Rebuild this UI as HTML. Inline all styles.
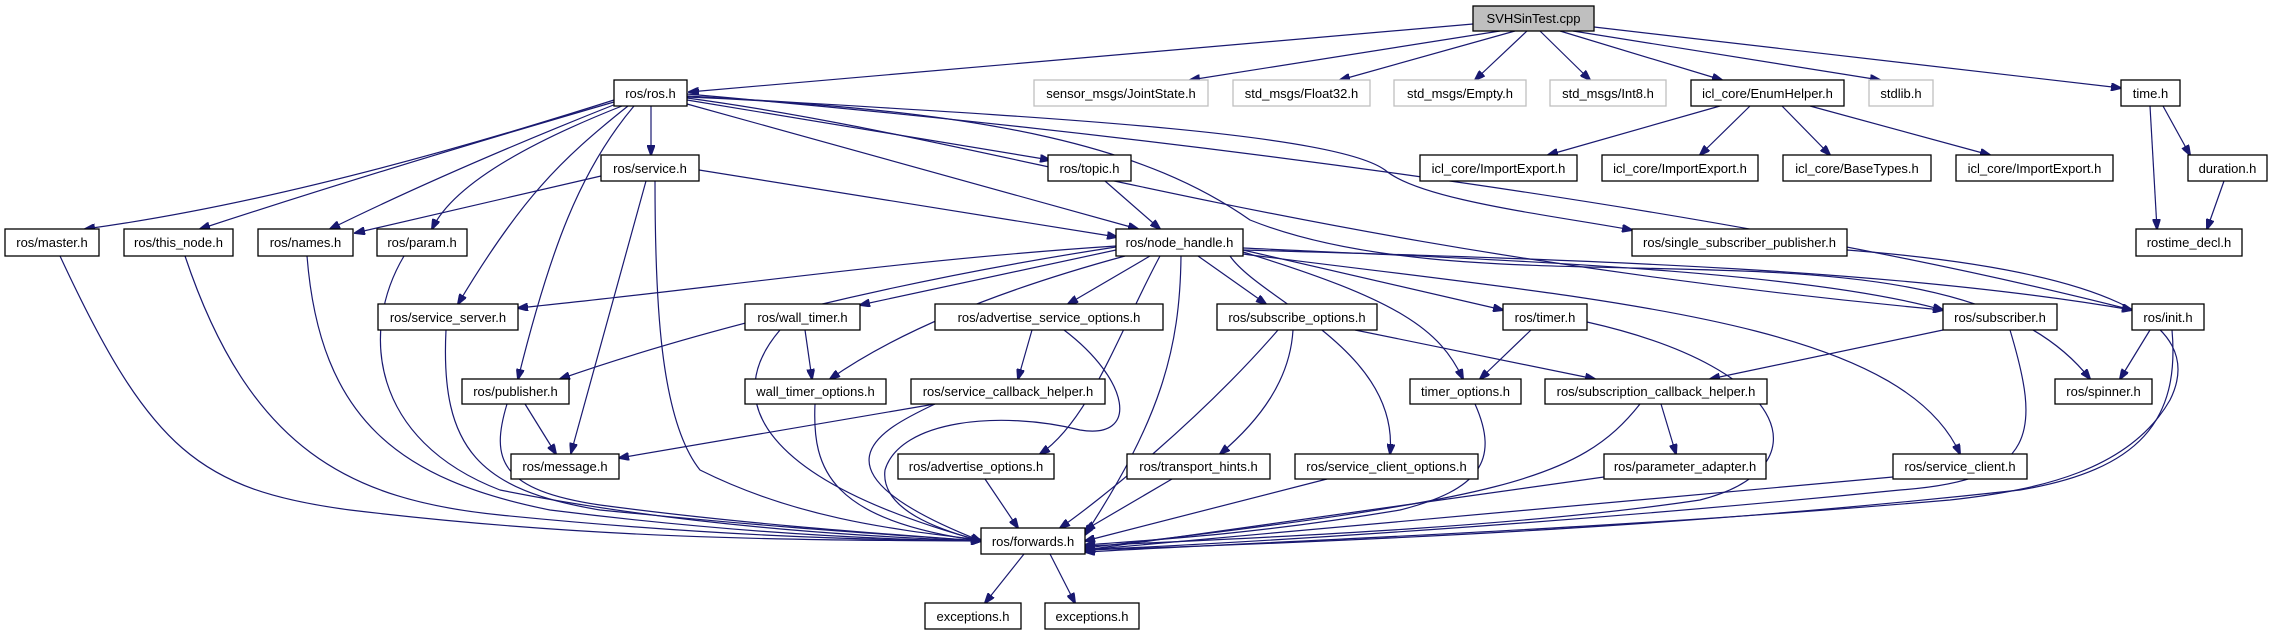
<!DOCTYPE html>
<html><head><meta charset="utf-8"><style>
html,body{margin:0;padding:0;background:#fff;}
svg{display:block;}
text{font-family:"Liberation Sans",sans-serif;font-size:13px;fill:#000;}
.n{fill:#fff;stroke:#000;stroke-width:1.3;}
.g{fill:#fff;stroke:#bfbfbf;stroke-width:1.3;}
.r{fill:#bfbfbf;stroke:#000;stroke-width:1.3;}
path{fill:none;stroke:#191970;stroke-width:1.2;}
</style></head><body>
<svg width="2273" height="635" viewBox="0 0 2273 635" xmlns="http://www.w3.org/2000/svg">
<defs><marker id="a" markerWidth="11" markerHeight="8" refX="10" refY="4" orient="auto" markerUnits="userSpaceOnUse"><path d="M0,0 L11,4 L0,8 z" style="fill:#191970;stroke:#191970"/></marker></defs>
<g marker-end="url(#a)">
<path d="M1473,24 L689,92"/>
<path d="M1500,31 L1190,80"/>
<path d="M1515,31 L1340,80"/>
<path d="M1527,31 L1475,80"/>
<path d="M1540,31 L1590,80"/>
<path d="M1560,31 L1722,80"/>
<path d="M1573,31 L1880,80"/>
<path d="M1594,27 L2121,88"/>
<path d="M1720,106 L1548,155"/>
<path d="M1750,106 L1700,155"/>
<path d="M1782,106 L1830,155"/>
<path d="M1810,106 L1990,155"/>
<path d="M2150,106 L2157,229"/>
<path d="M2163,106 L2190,155"/>
<path d="M2224,181 L2207,229"/>
<path d="M614,100 Q300,200 85,229"/>
<path d="M614,102 Q380,170 200,229"/>
<path d="M616,104 Q450,170 330,229"/>
<path d="M622,106 Q460,170 432,229"/>
<path d="M628,106 C560,160 520,200 458,304"/>
<path d="M634,106 C580,170 550,250 518,379"/>
<path d="M651,106 L651,155"/>
<path d="M687,100 L1050,160"/>
<path d="M687,104 L1138,229"/>
<path d="M687,96 C1000,115 1330,130 1385,170 C1420,200 1550,215 1632,230"/>
<path d="M687,98 C1000,140 1300,250 1943,310"/>
<path d="M687,94 C1100,130 1700,200 2132,310"/>
<path d="M687,97 C1000,110 1150,150 1250,220 C1500,320 1950,200 2090,379"/>
<path d="M601,176 L355,233"/>
<path d="M699,170 L1117,237"/>
<path d="M646,181 L571,453"/>
<path d="M655,181 C655,300 660,420 700,470 C800,520 900,530 981,540"/>
<path d="M1105,181 L1160,229"/>
<path d="M1116,246 C900,260 700,290 518,308"/>
<path d="M1116,247 C900,280 700,330 560,379"/>
<path d="M1116,250 L860,305"/>
<path d="M1125,256 C1000,290 900,330 830,379"/>
<path d="M1150,256 L1068,304"/>
<path d="M1160,256 C1120,330 1090,420 1040,454"/>
<path d="M1198,256 L1266,304"/>
<path d="M1230,256 C1260,300 1400,350 1390,454"/>
<path d="M1243,252 C1400,300 1440,330 1463,379"/>
<path d="M1243,250 L1503,310"/>
<path d="M1243,248 C1500,260 1800,270 1943,310"/>
<path d="M1243,250 C1600,260 1900,270 2132,310"/>
<path d="M1181,256 C1180,350 1160,420 1085,535"/>
<path d="M1243,254 C1600,300 1900,320 1960,454"/>
<path d="M60,256 C150,450 200,490 350,510 C600,540 800,540 981,541"/>
<path d="M185,256 C250,450 350,500 500,515 C700,535 850,540 981,541"/>
<path d="M307,256 C320,420 400,480 550,510 C750,535 900,540 981,541"/>
<path d="M404,256 C360,330 370,440 500,490 C700,530 900,538 981,541"/>
<path d="M446,330 C440,450 480,490 600,510 C800,530 900,535 981,541"/>
<path d="M507,404 C490,460 500,490 600,505 C750,525 900,535 981,541"/>
<path d="M525,404 L556,454"/>
<path d="M780,330 C720,400 760,480 981,541"/>
<path d="M805,330 L812,379"/>
<path d="M815,404 C812,470 830,520 981,541"/>
<path d="M1032,330 L1018,379"/>
<path d="M1064,330 C1130,380 1140,440 1080,430 C1000,410 900,420 885,470 C880,510 940,530 981,541"/>
<path d="M935,404 L619,458"/>
<path d="M935,404 C880,430 800,470 981,541"/>
<path d="M985,479 L1018,528"/>
<path d="M1293,330 C1290,380 1260,420 1220,454"/>
<path d="M1278,330 C1200,420 1100,500 1060,528"/>
<path d="M1355,330 L1595,379"/>
<path d="M1172,479 L1085,530"/>
<path d="M1327,479 L1085,541"/>
<path d="M1531,330 L1480,379"/>
<path d="M1587,322 C1800,370 1820,470 1700,500 C1500,530 1200,540 1085,546"/>
<path d="M1475,404 C1500,460 1480,490 1400,510 C1250,535 1150,540 1085,545"/>
<path d="M1661,404 L1676,454"/>
<path d="M1640,404 C1580,480 1500,500 1085,548"/>
<path d="M1604,477 L1085,550"/>
<path d="M1893,477 L1085,550"/>
<path d="M1943,330 L1710,379"/>
<path d="M2010,330 C2040,430 2040,480 1900,490 C1600,520 1300,540 1085,550"/>
<path d="M2150,330 L2120,379"/>
<path d="M2172,330 C2180,420 2140,470 2020,490 C1700,525 1400,540 1085,550"/>
<path d="M1847,250 C2100,270 2210,320 2170,400 C2130,470 2040,490 1950,500 C1600,530 1300,540 1085,552"/>
<path d="M1024,554 L985,603"/>
<path d="M1050,554 L1075,603"/>
</g>
<g text-anchor="middle">
<rect class="r" x="1473" y="6" width="121" height="25"/><text x="1533.5" y="23">SVHSinTest.cpp</text>
<rect class="n" x="614" y="80" width="73" height="26"/><text x="650.5" y="98">ros/ros.h</text>
<rect class="g" x="1034" y="80" width="174" height="26"/><text x="1121" y="98">sensor_msgs/JointState.h</text>
<rect class="g" x="1233" y="80" width="137" height="26"/><text x="1301.5" y="98">std_msgs/Float32.h</text>
<rect class="g" x="1394" y="80" width="132" height="26"/><text x="1460" y="98">std_msgs/Empty.h</text>
<rect class="g" x="1550" y="80" width="116" height="26"/><text x="1608" y="98">std_msgs/Int8.h</text>
<rect class="n" x="1691" y="80" width="153" height="26"/><text x="1767.5" y="98">icl_core/EnumHelper.h</text>
<rect class="g" x="1869" y="80" width="64" height="26"/><text x="1901" y="98">stdlib.h</text>
<rect class="n" x="2121" y="80" width="59" height="26"/><text x="2150.5" y="98">time.h</text>
<rect class="n" x="601" y="155" width="98" height="26"/><text x="650" y="173">ros/service.h</text>
<rect class="n" x="1048" y="155" width="83" height="26"/><text x="1089.5" y="173">ros/topic.h</text>
<rect class="n" x="1420" y="155" width="157" height="26"/><text x="1498.5" y="173">icl_core/ImportExport.h</text>
<rect class="n" x="1602" y="155" width="156" height="26"/><text x="1680" y="173">icl_core/ImportExport.h</text>
<rect class="n" x="1783" y="155" width="148" height="26"/><text x="1857" y="173">icl_core/BaseTypes.h</text>
<rect class="n" x="1956" y="155" width="157" height="26"/><text x="2034.5" y="173">icl_core/ImportExport.h</text>
<rect class="n" x="2188" y="155" width="79" height="26"/><text x="2227.5" y="173">duration.h</text>
<rect class="n" x="5" y="229" width="94" height="27"/><text x="52" y="247">ros/master.h</text>
<rect class="n" x="124" y="229" width="109" height="27"/><text x="178.5" y="247">ros/this_node.h</text>
<rect class="n" x="258" y="229" width="95" height="27"/><text x="305.5" y="247">ros/names.h</text>
<rect class="n" x="377" y="229" width="90" height="27"/><text x="422" y="247">ros/param.h</text>
<rect class="n" x="1116" y="229" width="127" height="27"/><text x="1179.5" y="247">ros/node_handle.h</text>
<rect class="n" x="1632" y="229" width="215" height="27"/><text x="1739.5" y="247">ros/single_subscriber_publisher.h</text>
<rect class="n" x="2136" y="229" width="106" height="27"/><text x="2189" y="247">rostime_decl.h</text>
<rect class="n" x="378" y="304" width="140" height="26"/><text x="448" y="322">ros/service_server.h</text>
<rect class="n" x="745" y="304" width="115" height="26"/><text x="802.5" y="322">ros/wall_timer.h</text>
<rect class="n" x="935" y="304" width="228" height="26"/><text x="1049" y="322">ros/advertise_service_options.h</text>
<rect class="n" x="1217" y="304" width="160" height="26"/><text x="1297" y="322">ros/subscribe_options.h</text>
<rect class="n" x="1503" y="304" width="84" height="26"/><text x="1545" y="322">ros/timer.h</text>
<rect class="n" x="1943" y="304" width="114" height="26"/><text x="2000" y="322">ros/subscriber.h</text>
<rect class="n" x="2132" y="304" width="72" height="26"/><text x="2168" y="322">ros/init.h</text>
<rect class="n" x="462" y="379" width="107" height="25"/><text x="515.5" y="396">ros/publisher.h</text>
<rect class="n" x="745" y="379" width="141" height="25"/><text x="815.5" y="396">wall_timer_options.h</text>
<rect class="n" x="911" y="379" width="194" height="25"/><text x="1008" y="396">ros/service_callback_helper.h</text>
<rect class="n" x="1410" y="379" width="111" height="25"/><text x="1465.5" y="396">timer_options.h</text>
<rect class="n" x="1545" y="379" width="222" height="25"/><text x="1656" y="396">ros/subscription_callback_helper.h</text>
<rect class="n" x="2055" y="379" width="97" height="25"/><text x="2103.5" y="396">ros/spinner.h</text>
<rect class="n" x="511" y="454" width="108" height="25"/><text x="565" y="471">ros/message.h</text>
<rect class="n" x="898" y="454" width="156" height="25"/><text x="976" y="471">ros/advertise_options.h</text>
<rect class="n" x="1127" y="454" width="143" height="25"/><text x="1198.5" y="471">ros/transport_hints.h</text>
<rect class="n" x="1295" y="454" width="183" height="25"/><text x="1386.5" y="471">ros/service_client_options.h</text>
<rect class="n" x="1604" y="454" width="162" height="25"/><text x="1685" y="471">ros/parameter_adapter.h</text>
<rect class="n" x="1893" y="454" width="134" height="25"/><text x="1960" y="471">ros/service_client.h</text>
<rect class="n" x="981" y="528" width="104" height="26"/><text x="1033" y="546">ros/forwards.h</text>
<rect class="n" x="925" y="603" width="96" height="26"/><text x="973" y="621">exceptions.h</text>
<rect class="n" x="1045" y="603" width="94" height="26"/><text x="1092" y="621">exceptions.h</text>
</g>
</svg>
</body></html>
